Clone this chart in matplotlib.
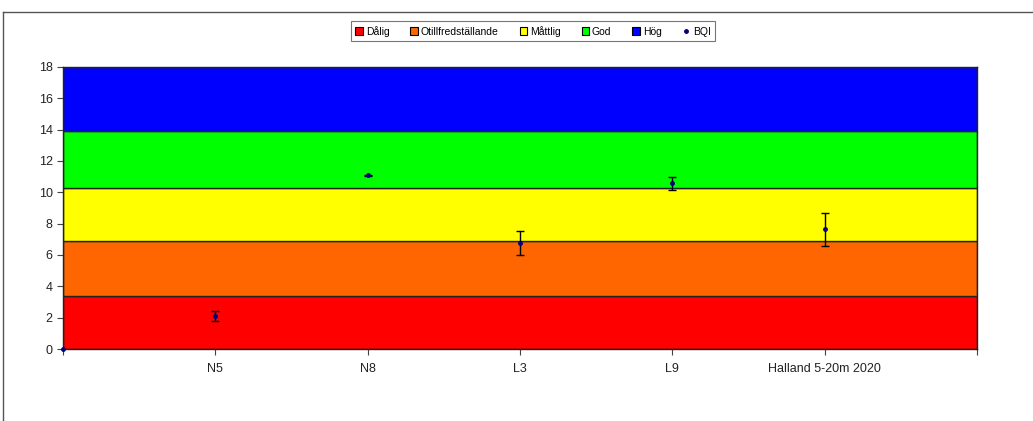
import numpy as np
import matplotlib.pyplot as plt
from matplotlib.lines import Line2D
from matplotlib.patches import Patch

plt.rcParams['font.family'] = ['Liberation Sans', 'DejaVu Sans']

# status class boundaries (BQI)
class_names = ['Dålig', 'Otillfredställande', 'Måttlig', 'God', 'Hög']
class_colors = ['#ff0000', '#ff6600', '#ffff00', '#00ff00', '#0000ff']
class_edges = [0, 3.4, 6.9, 10.3, 13.9, 18]

stations = ['', 'N5', 'N8', 'L3', 'L9', 'Halland 5-20m 2020', '']
bqi = [0, 2.13, 11.08, 6.76, 10.57, 7.66]
bqi_lo = [0, 1.76, 11.03, 6.02, 10.18, 6.55]
bqi_hi = [0, 2.43, 11.13, 7.51, 10.95, 8.70]

x = np.arange(len(stations))

fig = plt.figure(figsize=(10.33, 4.21), dpi=100)
ax = fig.add_axes([0.061, 0.171, 0.8849, 0.6699])

for i in range(len(class_names)):
    ax.fill_between([x[0], x[-1]], class_edges[i], class_edges[i + 1],
                    facecolor=class_colors[i], edgecolor='#222222', linewidth=1.0)

xp = x[:len(bqi)]
yerr = [np.array(bqi) - np.array(bqi_lo), np.array(bqi_hi) - np.array(bqi)]
ax.errorbar(xp[1:], bqi[1:], yerr=[yerr[0][1:], yerr[1][1:]], fmt='none',
            ecolor='black', elinewidth=1.0, capsize=3, capthick=1.0, zorder=3)
ax.plot(xp, bqi, linestyle='none', marker='o', markersize=2.5,
        color='#000080', zorder=4, clip_on=False)

ax.set_xlim(x[0], x[-1])
ax.set_ylim(0, 18)
ax.set_yticks(np.arange(0, 19, 2))
ax.set_xticks(x)
ax.set_xticklabels(stations)
ax.tick_params(axis='both', labelsize=9, length=4, width=0.8, color='#444444',
               labelcolor='#222222', direction='out')
ax.tick_params(axis='x', pad=6)
for s in ax.spines.values():
    s.set_color('#222222')
    s.set_linewidth(1.0)

handles = [Patch(facecolor=c, edgecolor='black', linewidth=0.8) for c in class_colors]
handles.append(Line2D([], [], linestyle='none', marker='o', markersize=2.5, color='#000080'))
leg = fig.legend(handles, class_names + ['BQI'], loc='center', bbox_to_anchor=(0.516, 0.926),
                 ncol=6, fontsize=7.5, frameon=True, fancybox=False, handlelength=0.7,
                 handleheight=0.7, handletextpad=0.3, columnspacing=2.0,
                 borderpad=0.45, edgecolor='#555555')
leg.get_frame().set_linewidth(0.8)

# outer chart border
fig.add_artist(Line2D([0.003, 1.0], [1 - 12 / 421, 1 - 12 / 421], color='#555555', linewidth=1.0))
fig.add_artist(Line2D([0.003, 0.003], [0, 1 - 12 / 421], color='#555555', linewidth=1.0))

fig.savefig('out.png', dpi=100)
